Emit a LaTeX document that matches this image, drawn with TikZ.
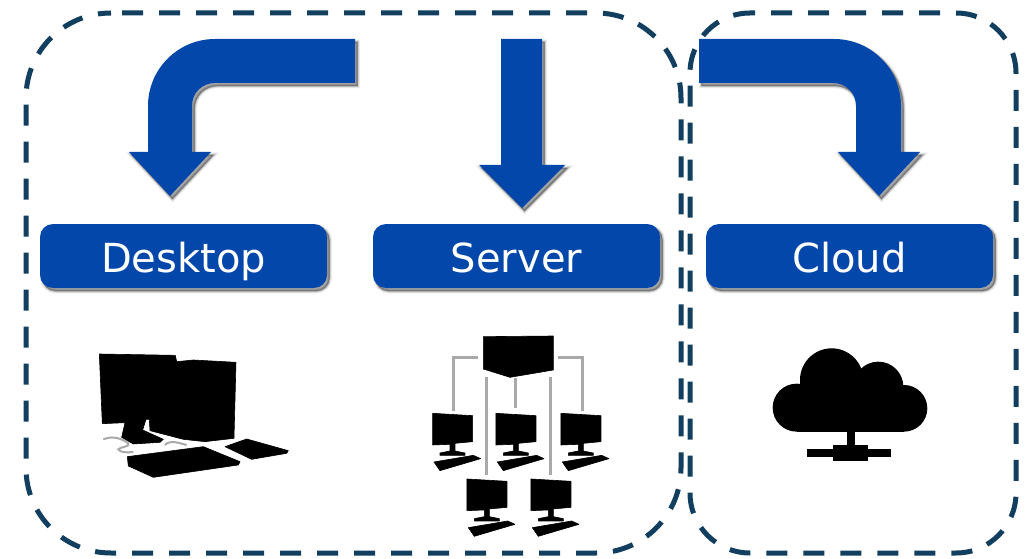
\documentclass[tikz,border=0pt]{standalone}
\usepackage{fontspec}
\setmainfont{DejaVu Sans}
\definecolor{cobalt}{HTML}{0447AB}
\definecolor{navy}{HTML}{123F5F}
\definecolor{cablegray}{HTML}{A9A9A9}
\tikzset{
  softshadow/.style={
    preaction={draw=black,fill=black,opacity=.06,line width=5pt,transform canvas={shift={(2.5pt,-3pt)}}},
    preaction={draw=black,fill=black,opacity=.12,line width=3pt,transform canvas={shift={(2.5pt,-3pt)}}},
    preaction={draw=black,fill=black,opacity=.20,line width=1.2pt,transform canvas={shift={(2.5pt,-3pt)}}}
  },
  groupbox/.style={draw=navy,line width=5pt},
  labelbox/.style={softshadow,fill=cobalt,rounded corners=13pt,minimum width=287pt,minimum height=64pt,
    inner sep=0pt,text=white,font=\fontsize{40pt}{44pt}\selectfont,text height=40pt,text depth=8pt,anchor=center},
  bluearrow/.style={softshadow,fill=cobalt,line join=round},
  iconfill/.style={fill=black,draw=black,line width=.6pt,line join=round},
  thinlink/.style={draw=cablegray,line width=2.4pt},
  desktopzoom/.style={shift={(70,330)},x=.3333pt,y=-.3333pt},
  serverzoom/.style={shift={(410,325)},x=.3333pt,y=-.3333pt},
  cloudzoom/.style={shift={(750,330)},x=.3333pt,y=-.3333pt},
  pics/pcicon/.style={code={
    \fill[iconfill] (68,265) -- (188,272) -- (188,350) -- (135,355) -- (135,378) -- (165,384) -- (165,391)
      -- (90,391) -- (90,384) -- (120,378) -- (120,358) -- (68,360) -- cycle;
    \fill[iconfill] (72,411) -- (190,391) -- (212,401) -- (90,437) -- cycle;
  }}
}
\begin{document}
\begin{tikzpicture}[x=1pt,y=-1pt]
\useasboundingbox (0,0) rectangle (1026,559);
\fill[white] (0,0) rectangle (1026,559);

% group boxes, drawn clockwise from the end of the top-left corner
\draw[groupbox,dash pattern=on 21pt off 16pt,dash phase=26pt,rounded corners=85pt] (111,13) -- (681,13) -- (681,553) -- (26,553) -- (26,13) -- (111,13);
\draw[groupbox,dash pattern=on 21pt off 16pt,dash phase=16pt,rounded corners=60pt] (750,13) -- (1016,13) -- (1016,553) -- (690,553) -- (690,13) -- (750,13);

% arrows
\path[bluearrow] (355,39) -- (355,83) -- (215,83) .. controls (202,83) and (192,93) .. (192,106)
  -- (192,152) -- (211,152) -- (170,196) -- (129,152) -- (148,152) -- (148,106)
  .. controls (148,69) and (178,39) .. (215,39) -- cycle;
\path[bluearrow] (501,39) -- (542,39) -- (542,165) -- (565,165) -- (522,208) -- (479,165) -- (501,165) -- cycle;
\path[bluearrow] (699,39) -- (699,83) -- (833,83) .. controls (846,83) and (856,93) .. (856,106)
  -- (856,152) -- (838,152) -- (879,196) -- (920,152) -- (901,152) -- (901,106)
  .. controls (901,69) and (871,39) .. (834,39) -- cycle;

% labels
\node[labelbox] (desktop) at (183.5,256) {Desktop};
\node[labelbox] (server) at (516.5,256) {Server};
\node[labelbox] (cloud) at (849.5,256) {Cloud};

% desktop icon
\begin{scope}[desktopzoom]
  \draw[cablegray,line width=2pt] (100,328) .. controls (125,318) and (150,322) .. (175,340) .. controls (180,352) and (150,350) .. (145,358) .. controls (150,368) and (170,368) .. (190,366);
  \draw[cablegray,line width=2pt] (285,345) .. controls (300,328) and (330,340) .. (350,345);
  \fill[iconfill] (88,72) -- (316,76) -- (320,95) -- (370,90) -- (498,97) -- (492,325) -- (405,335)
    -- (340,328) -- (240,302) -- (238,268) -- (228,268) -- (218,300) -- (280,328) -- (270,337) -- (190,342)
    -- (155,322) -- (165,278) -- (97,281) -- cycle;
  \fill[iconfill] (172,380) -- (400,350) -- (510,395) -- (505,405) -- (250,442) -- (175,408) -- cycle;
  \fill[iconfill] (465,350) -- (530,327) -- (655,362) -- (650,370) -- (545,388) -- cycle;
\end{scope}

% server icon
\begin{scope}[serverzoom]
  \path[thinlink] (203,98) -- (130,98) -- (130,257);
  \path[thinlink] (445,98) -- (517,98) -- (517,257);
  \path[thinlink] (316,160) -- (316,250);
  \path[thinlink] (229,155) -- (229,450);
  \path[thinlink] (421,155) -- (421,450);
  \fill[iconfill] (220,35) -- (430,33) -- (430,135) -- (300,157) -- (220,132) -- cycle;
  \pic at (0,0) {pcicon};
  \pic at (190,0) {pcicon};
  \pic at (385,0) {pcicon};
  \pic at (103,197) {pcicon};
  \pic at (295,197) {pcicon};
\end{scope}

% cloud icon
\begin{scope}[cloudzoom]
  \fill (140,233) circle (72);
  \fill (462,235) circle (70);
  \fill (245,150) circle (95);
  \fill (385,170) circle (75);
  \fill (140,200) rectangle (462,305);
  \fill (292,300) rectangle (315,350);
  \fill (172,358) rectangle (422,382);
  \fill (248,345) rectangle (355,392);
\end{scope}
\end{tikzpicture}
\end{document}
